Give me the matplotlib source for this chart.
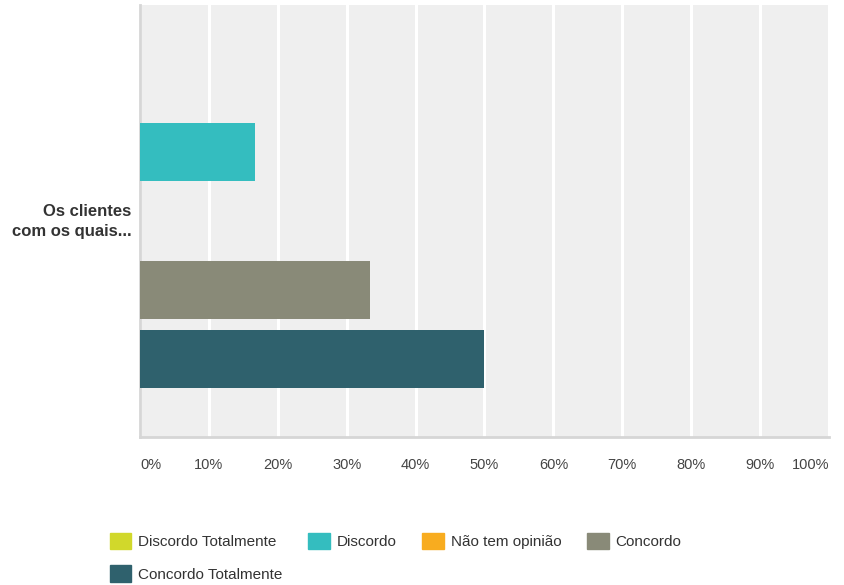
import matplotlib.pyplot as plt
from matplotlib.patches import Patch
from matplotlib.transforms import ScaledTranslation

plt.rcParams['font.family'] = ['Liberation Sans', 'DejaVu Sans']

# data
question = "Os clientes\ncom os quais..."
answers = ["Discordo Totalmente", "Discordo", "Não tem opinião", "Concordo", "Concordo Totalmente"]
percents = [0, 16.67, 0, 33.33, 50]
colors = ["#d1d82b", "#34bdbf", "#f8ac1f", "#898a78", "#2f616d"]
ticks = [0, 10, 20, 30, 40, 50, 60, 70, 80, 90, 100]

fig = plt.figure(figsize=(8.45, 5.85), dpi=100)
ax = fig.add_axes([140 / 845, 1 - 437 / 585, 689 / 845, 432 / 585])
ax.set_facecolor("#efefef")

for i, (ans, val, col) in enumerate(zip(answers, percents, colors)):
    ax.barh(i, val, height=0.84, color=col, zorder=3)

ax.set_xlim(0, 100)
ax.set_ylim(4 + 1.13, -1.13)

# grid
ax.set_xticks(ticks)
ax.xaxis.grid(True, color="white", linewidth=2.2, zorder=1)
ax.set_axisbelow(True)
ax.set_xticklabels([f"{t}%" for t in ticks], fontsize=10.5, color="#444444")
ax.tick_params(axis="x", length=0, pad=15)
labels = ax.get_xticklabels()
labels[0].set_horizontalalignment("left")
labels[-1].set_horizontalalignment("right")

ax.set_yticks([2])
ax.set_yticklabels([question], fontsize=12, fontweight="bold", color="#333333",
                   multialignment="right", linespacing=1.4)
ax.tick_params(axis="y", length=0, pad=6)
# nudge the question label up a little
lab = ax.get_yticklabels()[0]
lab.set_transform(lab.get_transform() + ScaledTranslation(0, 3 / 100, fig.dpi_scale_trans))

for s in ["top", "right"]:
    ax.spines[s].set_visible(False)
ax.spines["left"].set_color("#d6d6d6")
ax.spines["left"].set_linewidth(2)
ax.spines["bottom"].set_color("#d6d6d6")
ax.spines["bottom"].set_linewidth(2)

# legend fills column by column, so reorder to get rows
order = [0, 4, 1, 2, 3]
handles = [Patch(facecolor=colors[i], edgecolor=colors[i]) for i in order]
fig.legend(handles, [answers[i] for i in order], loc="upper left",
           bbox_to_anchor=(96 / 845, 1 - 519 / 585),
           ncol=4, frameon=False, fontsize=11, handlelength=1.4, handleheight=1.3,
           handletextpad=0.45, columnspacing=1.7, labelspacing=1.05, labelcolor="#333333")

plt.savefig("out.png", dpi=100)
